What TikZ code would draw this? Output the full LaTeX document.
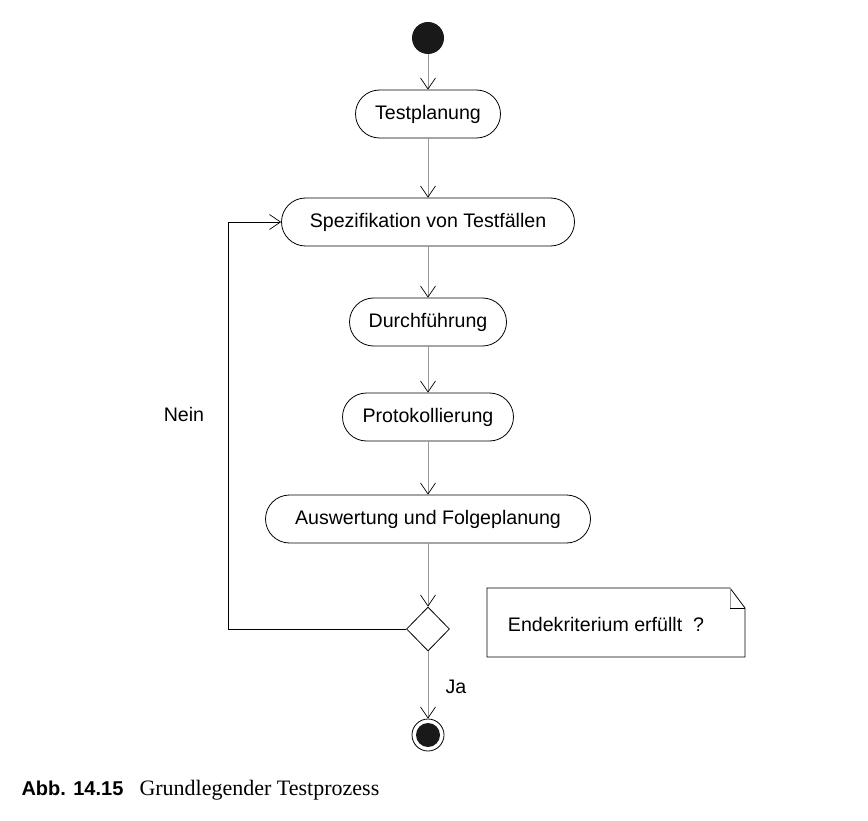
\documentclass[tikz,border=0pt]{standalone}
\usepackage{fontspec}
\setmainfont{Liberation Sans}
\newfontfamily\capserif{Liberation Serif}
\usetikzlibrary{arrows.meta,shapes.geometric}

\begin{document}
\begin{tikzpicture}[x=1pt,y=-1pt,
        act/.style={draw, line width=0.8pt, rounded corners=24pt, minimum height=48pt, inner sep=0pt, text depth=0.3em, font=\fontsize{19.6}{22}\selectfont},
        flow/.style={draw=black!40, line width=1pt, -{Straight Barb[length=11pt,width=15pt,color=black,line width=0.7pt]}},
        back/.style={draw=black, line width=0.8pt, -{Straight Barb[length=11pt,width=15pt,line width=0.7pt]}},
        lbl/.style={font=\fontsize{19.6}{22}\selectfont}]
        \useasboundingbox (0,0) rectangle (868,821);

        \node[circle, fill=black!90, minimum size=32pt, inner sep=0pt] (start) at (428, 38) {};
        \node[act, minimum width=145pt] (plan) at (428, 114) {Testplanung};
        \node[act, minimum width=293pt] (spez) at (428, 222) {Spezifikation von Testfällen};
        \node[act, minimum width=157pt] (durch) at (428, 322) {Durchführung};
        \node[act, minimum width=171pt] (proto) at (428, 417) {Protokollierung};
        \node[act, minimum width=325pt] (ausw) at (428, 519) {Auswertung und Folgeplanung};
        \node[diamond, draw, line width=0.8pt, minimum width=43pt, minimum height=44pt, inner sep=0pt] (raute) at (428, 629) {};
        \node[circle, draw, line width=0.8pt, minimum size=32pt, inner sep=0pt] (ende) at (428, 735) {};
        \node[circle, fill=black!90, minimum size=24pt, inner sep=0pt] (endpunkt) at (ende) {};
        \coordinate (knick) at (228, 222);

        \draw[flow] (start) to (plan);
        \draw[flow] (plan) to (spez);
        \draw[flow] (spez) to (durch);
        \draw[flow] (durch) to (proto);
        \draw[flow] (proto) to (ausw);
        \draw[flow] (ausw) to (raute);
        \draw[flow] (raute) to (ende);
        \draw[back] (raute.west) -| (knick) -- (spez.west);

        \node[lbl] (nein) at (184, 414) {Nein};
        \node[lbl] (ja) at (456, 687) {Ja};

        % notiz mit eselsohr
        \draw[line width=0.8pt] (487, 588) -- (730, 588) -- (745, 608) -- (745, 657) -- (487, 657) -- cycle;
        \draw[black!40, line width=0.8pt] (730, 588) -- (730, 608);
        \draw[line width=0.8pt] (730, 608) -- (745, 608);
        \node[lbl] (notiz) at (606, 624) {Endekriterium erfüllt\ \ ?};

        \node[anchor=base west, font=\fontsize{20}{22}\selectfont\bfseries] (abb) at (18, 795) {Abb. 14.15};
        \node[anchor=base west, font=\fontsize{22}{24}\selectfont\capserif] (titel) at (136, 795) {Grundlegender Testprozess};
\end{tikzpicture}
\end{document}
